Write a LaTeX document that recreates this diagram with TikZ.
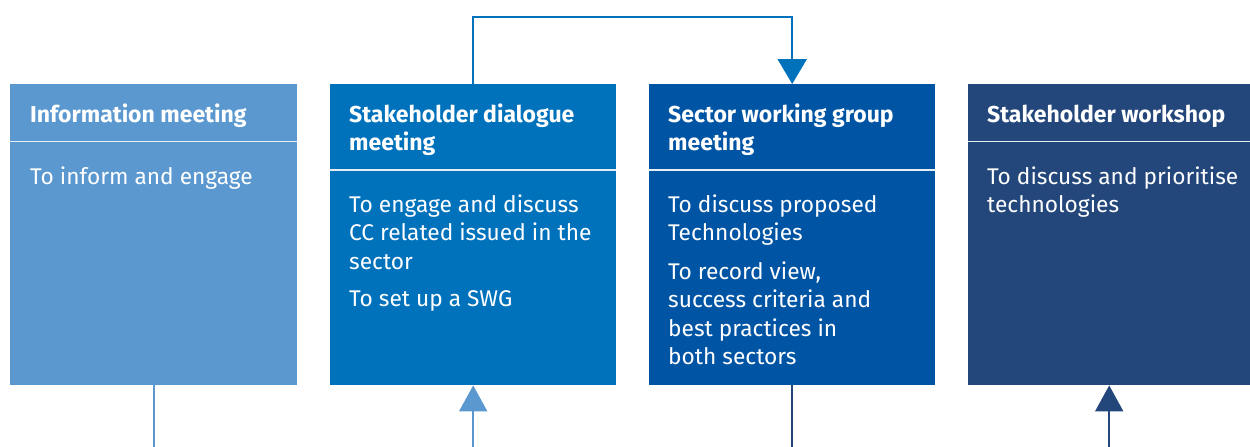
\documentclass[tikz,border=0pt]{standalone}
\usepackage{fontspec}
\setmainfont{Fira Sans}
\usetikzlibrary{arrows.meta}
\definecolor{cA}{HTML}{5B98D0}
\definecolor{cB}{HTML}{0072BC}
\definecolor{cC}{HTML}{0054A4}
\definecolor{cD}{HTML}{23477B}
\definecolor{divc}{HTML}{E6EEF5}
\tikzset{
  box/.style={rectangle, inner sep=0pt, minimum width=#1, minimum height=301pt, anchor=north west},
  head/.style={anchor=base west, inner sep=0pt, text=white, font=\fontsize{23}{27.5}\selectfont\bfseries},
  body/.style={anchor=base west, inner sep=0pt, text=white, font=\fontsize{22.7}{28.5}\selectfont},
  divider/.style={draw=divc, line width=1.5pt},
  uptip/.style={-{Triangle[width=28pt,length=26pt]}},
}
\begin{document}
\begin{tikzpicture}[x=1pt,y=-1pt]
\useasboundingbox (0,0) rectangle (1250,447);
% boxes
\node[box=287pt, fill=cA] (b1) at (10,84) {};
\node[box=286pt, fill=cB] (b2) at (330,84) {};
\node[box=286pt, fill=cC] (b3) at (649,84) {};
\node[box=282pt, fill=cD] (b4) at (968,84) {};
% dividers
\draw[divider] (10,141.5) -- (297,141.5);
\draw[divider] (330,170) -- (616,170);
\draw[divider] (649,170) -- (935,170);
\draw[divider] (968,141.5) -- (1250,141.5);
% headings
\node[head] (h1) at (30,122.8) {Information meeting};
\node[head] (h2a) at (349,122.8) {Stakeholder dialogue};
\node[head] (h2b) at (349,150.3) {meeting};
\node[head] (h3a) at (668,122.8) {Sector working group};
\node[head] (h3b) at (668,150.3) {meeting};
\node[head] (h4) at (987,122.8) {Stakeholder workshop};
% bodies
\node[body] (t1) at (30,184) {To inform and engage};
\node[body] (t2a) at (349,212) {To engage and discuss};
\node[body] (t2b) at (349,240.5) {CC related issued in the};
\node[body] (t2c) at (349,269) {sector};
\node[body] (t2d) at (349,306) {To set up a SWG};
\node[body] (t3a) at (668,212) {To discuss proposed};
\node[body] (t3b) at (668,240.5) {Technologies};
\node[body] (t3c) at (668,279) {To record view,};
\node[body] (t3d) at (668,307.5) {success criteria and};
\node[body] (t3e) at (668,336) {best practices in};
\node[body] (t3f) at (668,364.5) {both sectors};
\node[body] (t4a) at (987,184) {To discuss and prioritise};
\node[body] (t4b) at (987,212.5) {technologies};
% top connector
\draw[line width=2.4pt, draw=cB, -{Triangle[width=29pt,length=25pt]}] (b2.north) -- ++(0,-67) -| (b3.north);
% bottom connectors
\coordinate (e1) at (b1.south |- 0,447);
\coordinate (e2) at (b2.south |- 0,447);
\coordinate (e3) at (b3.south |- 0,447);
\coordinate (e4) at (b4.south |- 0,447);
\draw[line width=2pt, draw=cA] (b1.south) -- (e1);
\draw[line width=2pt, draw=cA, uptip] (e2) -- (b2.south);
\draw[line width=2pt, draw=cD] (b3.south) -- (e3);
\draw[line width=2pt, draw=cD, uptip] (e4) -- (b4.south);
\end{tikzpicture}
\end{document}
